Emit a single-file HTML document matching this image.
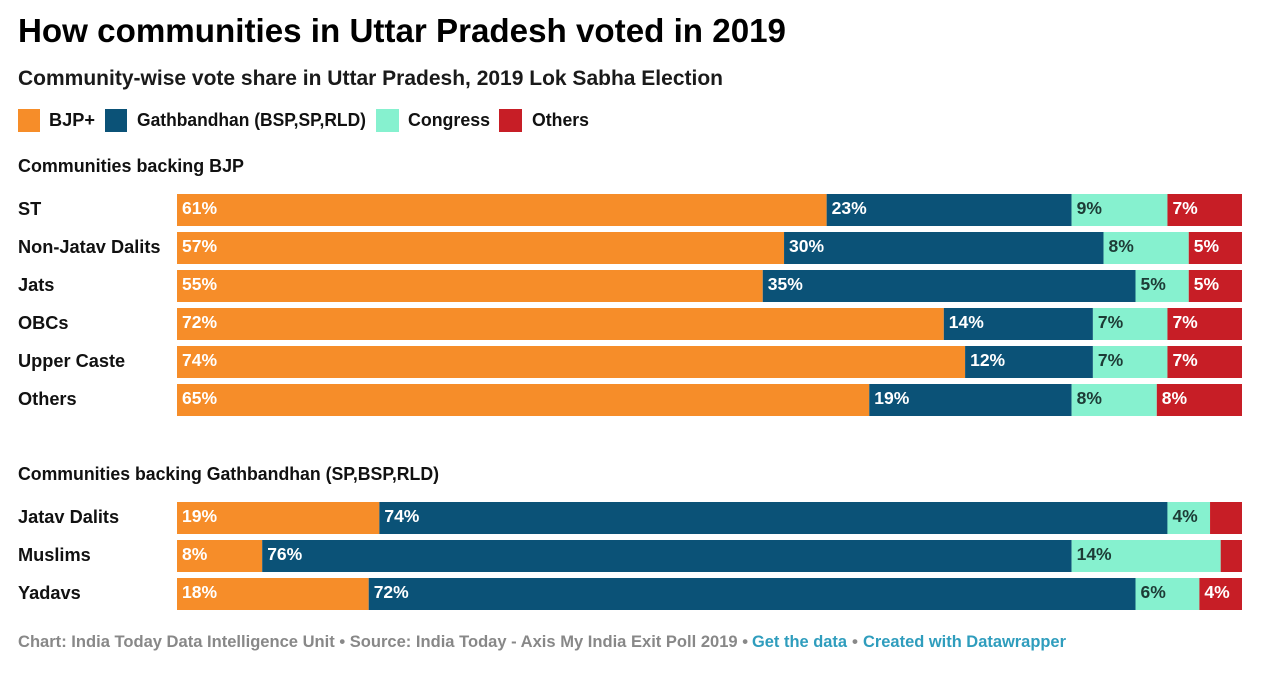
<!DOCTYPE html>
<html lang="en">
<head>
<meta charset="utf-8">
<title>How communities in Uttar Pradesh voted in 2019</title>
<style>
html,body{margin:0;padding:0;background:#fff;width:1280px;height:678px;overflow:hidden}
svg{display:block}
text{font-family:"Liberation Sans",sans-serif;font-weight:700;fill:#111}
</style>
</head>
<body>
<svg id="chart" xmlns="http://www.w3.org/2000/svg" width="1280" height="678" viewBox="0 0 1280 678">
  <rect x="0" y="0" width="1280" height="678" fill="#ffffff"/>
  <text x="18" y="42" font-size="33" textLength="768" lengthAdjust="spacingAndGlyphs" style="fill:#000">How communities in Uttar Pradesh voted in 2019</text>
  <text x="18" y="85" font-size="21" textLength="705" lengthAdjust="spacingAndGlyphs" style="fill:#1a1a1a">Community-wise vote share in Uttar Pradesh, 2019 Lok Sabha Election</text>

  <g>
    <rect x="18" y="109" width="22" height="23" fill="#f68d29"/>
    <text x="49" y="126" font-size="18" textLength="46" lengthAdjust="spacingAndGlyphs">BJP+</text>
    <rect x="105" y="109" width="22" height="23" fill="#0b5277"/>
    <text x="137" y="126" font-size="18" textLength="229" lengthAdjust="spacingAndGlyphs">Gathbandhan (BSP,SP,RLD)</text>
    <rect x="376" y="109" width="23" height="23" fill="#86f1cf"/>
    <text x="408" y="126" font-size="18" textLength="82" lengthAdjust="spacingAndGlyphs">Congress</text>
    <rect x="499" y="109" width="23" height="23" fill="#c71e26"/>
    <text x="532" y="126" font-size="18" textLength="57" lengthAdjust="spacingAndGlyphs">Others</text>
  </g>

  <text x="18" y="172" font-size="18" textLength="226" lengthAdjust="spacingAndGlyphs">Communities backing BJP</text>
  <text x="18" y="480" font-size="18" textLength="421" lengthAdjust="spacingAndGlyphs">Communities backing Gathbandhan (SP,BSP,RLD)</text>

  <g id="bars"></g>

  <g font-size="17">
    <text x="18" y="647" font-size="17" textLength="730" lengthAdjust="spacingAndGlyphs" style="fill:#888888">Chart: India Today Data Intelligence Unit • Source: India Today - Axis My India Exit Poll 2019 •</text>
    <text x="752" y="647" font-size="17" textLength="95" lengthAdjust="spacingAndGlyphs" style="fill:#2f9dbd;cursor:pointer">Get the data</text>
    <text x="852" y="647" font-size="17" style="fill:#888888">•</text>
    <text x="863" y="647" font-size="17" textLength="203" lengthAdjust="spacingAndGlyphs" style="fill:#2f9dbd;cursor:pointer">Created with Datawrapper</text>
  </g>
</svg>
<script>
// Chart data
var categoriesTop = ['ST', 'Non-Jatav Dalits', 'Jats', 'OBCs', 'Upper Caste', 'Others'];
var bjpTop = [61, 57, 55, 72, 74, 65];
var gathbandhanTop = [23, 30, 35, 14, 12, 19];
var congressTop = [9, 8, 5, 7, 7, 8];
var othersTop = [7, 5, 5, 7, 7, 8];

var categoriesBottom = ['Jatav Dalits', 'Muslims', 'Yadavs'];
var bjpBottom = [19, 8, 18];
var gathbandhanBottom = [74, 76, 72];
var congressBottom = [4, 14, 6];
var othersBottom = [3, 2, 4];

// Axis functions and styling
var xStart = 177, xEnd = 1242, rowStep = 38, barHeight = 32;
var minLabelValue = 4;
function xScale(v) { return xStart + (xEnd - xStart) * v / 100; }
function yRow(groupTop, i) { return groupTop + i * rowStep; }

var seriesStyles = [
  { key: 'bjp', fill: '#f68d29', label: '#ffffff' },
  { key: 'gathbandhan', fill: '#0b5277', label: '#ffffff' },
  { key: 'congress', fill: '#86f1cf', label: '#1d3b36' },
  { key: 'others', fill: '#c71e26', label: '#ffffff' }
];
var svgNS = 'http://www.w3.org/2000/svg';
var barsLayer = document.getElementById('bars');

function drawGroup(categories, seriesList, groupTop) {
  categories.forEach(function (cat, i) {
    var y = yRow(groupTop, i);
    var slug = cat.toLowerCase().replace(/[^a-z]+/g, '-');

    var catText = document.createElementNS(svgNS, 'text');
    
    
    catText.setAttribute('x', 18);
    catText.setAttribute('y', y + 21);
    catText.setAttribute('font-size', 18.2);
    catText.textContent = cat;
    barsLayer.appendChild(catText);

    var cumulative = 0;
    seriesList.forEach(function (values, s) {
      var v = values[i];
      var style = seriesStyles[s];
      var x0 = xScale(cumulative);
      var x1 = xScale(cumulative + v);

      var rect = document.createElementNS(svgNS, 'rect');
      
      
      rect.setAttribute('x', x0);
      rect.setAttribute('y', y);
      rect.setAttribute('width', x1 - x0);
      rect.setAttribute('height', barHeight);
      rect.setAttribute('fill', style.fill);
      barsLayer.appendChild(rect);

      if (v >= minLabelValue) {
        var label = document.createElementNS(svgNS, 'text');
        
        
        label.setAttribute('x', x0 + 5);
        label.setAttribute('y', y + 20);
        label.setAttribute('font-size', 17.5);
        label.setAttribute('style', 'fill:' + style.label);
        label.textContent = v + '%';
        barsLayer.appendChild(label);
      }
      cumulative += v;
    });
  });
}

drawGroup(categoriesTop, [bjpTop, gathbandhanTop, congressTop, othersTop], 194);
drawGroup(categoriesBottom, [bjpBottom, gathbandhanBottom, congressBottom, othersBottom], 502);
</script>
</body>
</html>
